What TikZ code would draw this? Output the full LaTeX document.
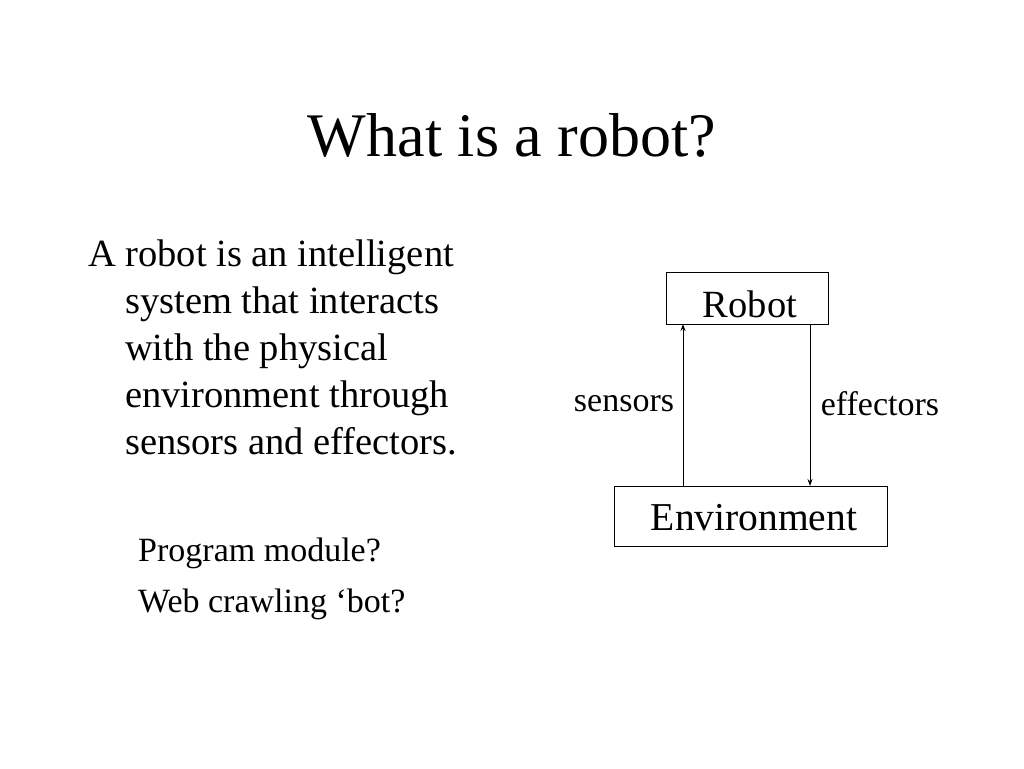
\documentclass[tikz,border=0pt]{standalone}
\usepackage{fontspec}
\setmainfont{Liberation Serif}
\usetikzlibrary{arrows.meta}
\begin{document}
\begin{tikzpicture}[x=1pt,y=-1pt,
  body/.style={anchor=base west,inner sep=0pt,font=\fontsize{38.5}{42}\selectfont},
  small/.style={inner sep=0pt,font=\fontsize{34}{38}\selectfont},
  box/.style={draw,inner sep=0pt,line width=0.9pt},
  arr/.style={-{Stealth[length=7pt,width=5pt]},line width=0.9pt}]
\useasboundingbox (0,0) rectangle (1024,768);
\node[inner sep=0pt,font=\fontsize{62}{70}\selectfont] (title) at (512,135) {What is a robot?};
\node[body] (l1) at (88,266) {A robot is an intelligent};
\node[body] (l2) at (125,313) {system that interacts};
\node[body] (l3) at (125,360) {with the physical};
\node[body] (l4) at (125,407) {environment through};
\node[body] (l5) at (125,454) {sensors and effectors.};
\node[small,anchor=base west] (p1) at (138,561) {Program module?};
\node[small,anchor=base west] (p2) at (138,612) {Web crawling ‘bot?};
\node[box,minimum width=162pt,minimum height=52pt] (robot) at (747,298) {};
\node[inner sep=0pt,font=\fontsize{38.5}{42}\selectfont] (rt) at (750,304) {Robot};
\node[box,minimum width=273pt,minimum height=60pt] (env) at (750.5,516) {};
\node[inner sep=0pt,font=\fontsize{39.5}{44}\selectfont] (et) at (754,518) {Environment};
\coordinate (sb) at (683,486);
\coordinate (st) at (683,324);
\coordinate (et1) at (810,324);
\coordinate (eb) at (810,486);
\draw[arr] (sb) -- (st);
\draw[arr] (et1) -- (eb);
\node[small] (sens) at (624,404) {sensors};
\node[small] (eff) at (880,404) {effectors};
\end{tikzpicture}
\end{document}
